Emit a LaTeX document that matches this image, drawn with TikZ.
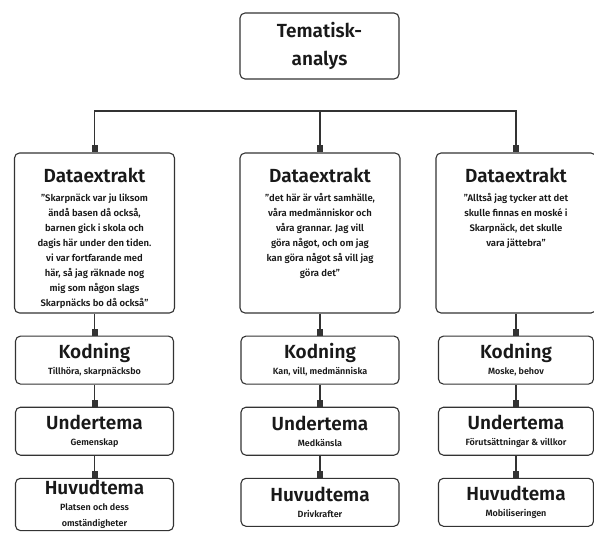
\documentclass[tikz,border=0pt]{standalone}
\usepackage{fontspec}
\setmainfont{Fira Sans}[BoldFont={Fira Sans SemiBold}]
\usepackage{tikz}
\usetikzlibrary{positioning,arrows.meta}

\newcommand{\rubrik}[1]{{\fontsize{19}{19}\selectfont #1}}
\newcommand{\datatext}[1]{\parbox[c][156pt][t]{156pt}{\centering
  \vspace*{13pt}
  {\fontsize{19}{19}\selectfont Dataextrakt\par}
  \vspace{4pt}
  {\fontsize{9.5}{15}\selectfont #1\par}}}

\begin{document}
\begin{tikzpicture}[->,>={Square[length=7pt,width=6pt]},x=1pt,y=1pt,node distance=22pt,
  line width=1.1pt,draw=black!80,
  ruta/.style={draw=black!80,line width=1.1pt,rounded corners=5pt,align=center,inner sep=2pt,
    font=\bfseries\fontsize{9}{16}\selectfont,text=black!90},
  dataruta/.style={ruta,minimum width=158pt,minimum height=160pt},
  liten/.style={ruta,minimum width=158pt,minimum height=48pt}]
\useasboundingbox (0,0) rectangle (594,-533);

\node (tema) [ruta,minimum width=159pt,minimum height=66pt,font=\bfseries\fontsize{19}{28}\selectfont] at (319.5,-46) {Tematisk-\\analys};

% dataextrakt
\node (d1) [dataruta] at (94.5,-233) {\datatext{"Skarpnäck var ju liksom\\ändå basen då också,\\barnen gick i skola och\\dagis här under den tiden.\\vi var fortfarande med\\här, så jag räknade nog\\mig som någon slags\\Skarpnäcks bo då också"}};
\node (d2) [dataruta] at (320,-233) {\datatext{"det här är vårt samhälle,\\våra medmänniskor och\\våra grannar. Jag vill\\göra något, och om jag\\kan göra något så vill jag\\göra det"}};
\node (d3) [dataruta,minimum width=155pt] at (516,-233) {\datatext{"Alltså jag tycker att det\\skulle finnas en moské i\\Skarpnäck, det skulle\\vara jättebra"}};

% kodning
\node (k1) [liten,below=of d1] {\rubrik{Kodning}\\Tillhöra, skarpnäcksbo};
\node (k2) [liten,below=of d2] {\rubrik{Kodning}\\Kan, vill, medmänniska};
\node (k3) [liten,below=of d3,minimum width=155pt] {\rubrik{Kodning}\\Moske, behov};

% undertema
\node (u1) [liten,below=of k1] {\rubrik{Undertema}\\Gemenskap};
\node (u2) [liten,below=of k2] {\rubrik{Undertema}\\Medkänsla};
\node (u3) [liten,below=of k3,minimum width=155pt] {\rubrik{Undertema}\\Förutsättningar \& villkor};

% huvudtema
\node (h1) [liten,below=of u1] {\rubrik{Huvudtema}\\Platsen och dess\\omständigheter};
\node (h2) [liten,below=of u2] {\rubrik{Huvudtema}\\Drivkrafter};
\node (h3) [liten,below=of u3,minimum width=155pt] {\rubrik{Huvudtema}\\Mobiliseringen};

\coordinate (gren) at (320,-111);
\draw (gren) -| (d1.north);
\draw (gren) -- (d2.north);
\draw (gren) -| (d3.north);

\path (d1) edge (k1) (k1) edge (u1) (u1) edge (h1);
\path (d2) edge (k2) (k2) edge (u2) (u2) edge (h2);
\path (d3) edge (k3) (k3) edge (u3) (u3) edge (h3);
\end{tikzpicture}
\end{document}
